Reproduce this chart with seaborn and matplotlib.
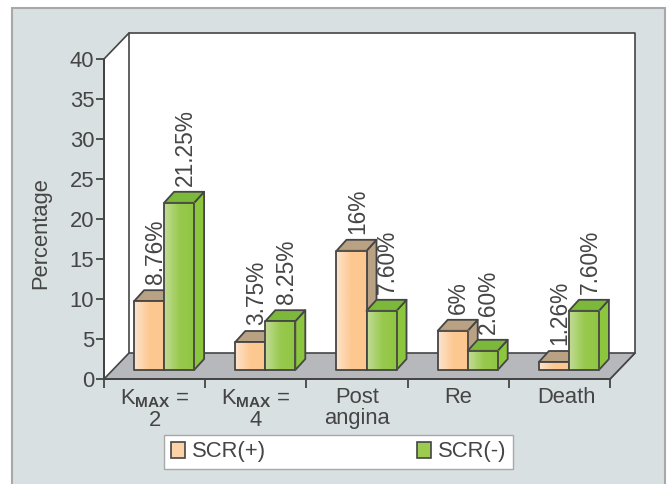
import numpy as np
import pandas as pd
import seaborn as sns
import matplotlib.pyplot as plt
from matplotlib.patches import Polygon, Rectangle, Patch
from matplotlib.transforms import ScaledTranslation, IdentityTransform
from matplotlib.colors import LinearSegmentedColormap

# values
groups = ["K$_{\\mathbf{MAX}}$ =\n2", "K$_{\\mathbf{MAX}}$ =\n4", "Post\nangina", "Re", "Death"]
series_names = ["SCR(+)", "SCR(-)"]
scr_pos = [8.6, 3.5, 14.9, 4.9, 1.0]
scr_neg = [20.9, 6.1, 7.4, 2.4, 7.4]
scr_pos_labels = ["8.76%", "3.75%", "16%", "6%", "1.26%"]
scr_neg_labels = ["21.25%", "8.25%", "7.60%", "2.60%", "7.60%"]
yticks = [0, 5, 10, 15, 20, 25, 30, 35, 40]

df = pd.DataFrame({
    "group": groups * 2,
    "series": [series_names[0]] * 5 + [series_names[1]] * 5,
    "value": scr_pos + scr_neg,
})

sns.set_style("ticks")
plt.rcParams["font.family"] = ["Liberation Sans", "DejaVu Sans"]
plt.rcParams["mathtext.fontset"] = "custom"
plt.rcParams["mathtext.rm"] = "Liberation Sans"
plt.rcParams["mathtext.bf"] = "Liberation Sans:bold"

dark = "#454545"
fsize = 15.8
W, H = 668, 484
fig = plt.figure(figsize=(W / 100, H / 100), dpi=100, facecolor="white")
fig.patches.append(Rectangle((12 / W, -0.05), 653 / W, 1.05 - 8 / H, transform=fig.transFigure,
                             facecolor="#d9e0e2", edgecolor="#a6a8aa", lw=1.5, zorder=-10))

ax = fig.add_axes([104 / W, (H - 379) / H, 506 / W, 320 / H])
ax.patch.set_visible(False)

sns.barplot(data=df, x="group", y="value", hue="series", hue_order=series_names,
            palette=["#fdd2a8", "#a5cf5e"], width=0.593, gap=0, saturation=1,
            legend=False, ax=ax)
ax.set_xlim(-0.5, 4.5)
ax.set_ylim(0, 40)

# room walls and floor
depth_x, depth_y = 25 / 506, 26 / 320
wall_kw = dict(transform=ax.transAxes, clip_on=False, edgecolor=dark, lw=1.2, joinstyle="round")
ax.add_patch(Polygon([(0, 0), (0, 1), (depth_x, 1 + depth_y), (1 + depth_x, 1 + depth_y),
                      (1 + depth_x, depth_y), (1, 0)],
                     facecolor="white", zorder=0.5, **wall_kw))
ax.add_line(plt.Line2D([depth_x, depth_x], [depth_y, 1 + depth_y], transform=ax.transAxes,
                       color=dark, lw=1.2, clip_on=False, zorder=0.6))
ax.add_patch(Polygon([(0, 0), (depth_x, depth_y), (1 + depth_x, depth_y), (1, 0)],
                     facecolor="#b6b8bc", zorder=0.7, **wall_kw))

# bars stand in the middle of the floor
bar_shift = ax.transData + ScaledTranslation(9.5 / 100, 9 / 100, fig.dpi_scale_trans)
face_dx, face_dy = 10, 11
top_cols = ["#b9a184", "#7cb93a"]
side_cols = ["#b9a184", "#8cc63f"]
grads = [LinearSegmentedColormap.from_list("p", ["#fde3cd", "#fdc891", "#fdc88f"]),
         LinearSegmentedColormap.from_list("g", ["#c3dc96", "#98c94e", "#8fc641"])]
label_sets = [scr_pos_labels, scr_neg_labels]
fig.canvas.draw()

for i, cont in enumerate(ax.containers):
    base_z = 3 + i
    for bar, lab in zip(cont, label_sets[i]):
        x0, w = bar.get_x(), bar.get_width()
        h = bar.get_height()
        (lx, by), (rx, ty) = bar_shift.transform([(x0, 0), (x0 + w, h)])
        poly_kw = dict(transform=IdentityTransform(), edgecolor=dark, lw=1.3,
                       joinstyle="round", clip_on=False)
        ax.add_patch(Polygon([(rx, by), (rx + face_dx, by + face_dy), (rx + face_dx, ty + face_dy), (rx, ty)],
                             facecolor=side_cols[i], zorder=base_z, **poly_kw))
        ax.add_patch(Polygon([(lx, ty), (lx + face_dx, ty + face_dy), (rx + face_dx, ty + face_dy), (rx, ty)],
                             facecolor=top_cols[i], zorder=base_z, **poly_kw))
        im = ax.imshow(np.linspace(0, 1, 64).reshape(1, -1), cmap=grads[i], aspect="auto",
                       extent=(lx, rx, by, ty), transform=IdentityTransform(),
                       zorder=base_z + 0.1, clip_on=False)
        ax.add_patch(Rectangle((lx, by), rx - lx, ty - by, facecolor="none",
                               zorder=base_z + 0.2, **poly_kw))
        ax.text((lx + rx) / 2 + 6, ty + face_dy + 6, lab, transform=IdentityTransform(), rotation=90,
                ha="center", va="bottom", fontsize=16.4, color=dark, zorder=10, clip_on=False)
        bar.set_visible(False)
ax.set_xlim(-0.5, 4.5)
ax.set_ylim(0, 40)

# axes
sns.despine(ax=ax)
for s in ["left", "bottom"]:
    ax.spines[s].set_color(dark)
    ax.spines[s].set_linewidth(1.4)
    ax.spines[s].set_zorder(2)
ax.set_yticks(yticks)
ax.set_xticks(np.arange(-0.5, 5), minor=True)
ax.tick_params(axis="y", length=6, width=1.3, color=dark, labelcolor=dark, labelsize=fsize, pad=1)
ax.tick_params(axis="x", which="major", length=0, labelcolor=dark, labelsize=fsize, pad=6)
ax.tick_params(axis="x", which="minor", length=6.5, width=1.3, color=dark)
for t in ax.get_xticklabels():
    t.set_linespacing(1.0)
# Death sits a little right of its slot in the original
death = ax.get_xticklabels()[4]
death.set_transform(death.get_transform() + ScaledTranslation(7 / 100, 0, fig.dpi_scale_trans))
ax.set_xlabel("")
ax.set_ylabel("Percentage", fontsize=fsize, color=dark)
ax.yaxis.set_label_coords(-53 / 506, 146 / 320)

# legend
handles = [Patch(facecolor="#fdd2a8", edgecolor=dark, lw=1.2, label=series_names[0]),
           Patch(facecolor="#9ccb50", edgecolor=dark, lw=1.2, label=series_names[1])]
leg = fig.legend(handles=handles, ncol=2, loc="center", bbox_to_anchor=(338.5 / W, (H - 452) / H),
                 fontsize=fsize, frameon=True, fancybox=False, framealpha=1, facecolor="white",
                 edgecolor="#a6a8aa", handlelength=0.65, handleheight=0.7, handletextpad=0.3,
                 columnspacing=6.9, labelcolor=dark, borderpad=0.3, borderaxespad=0)

fig.savefig("out.png", dpi=100, facecolor="white")
